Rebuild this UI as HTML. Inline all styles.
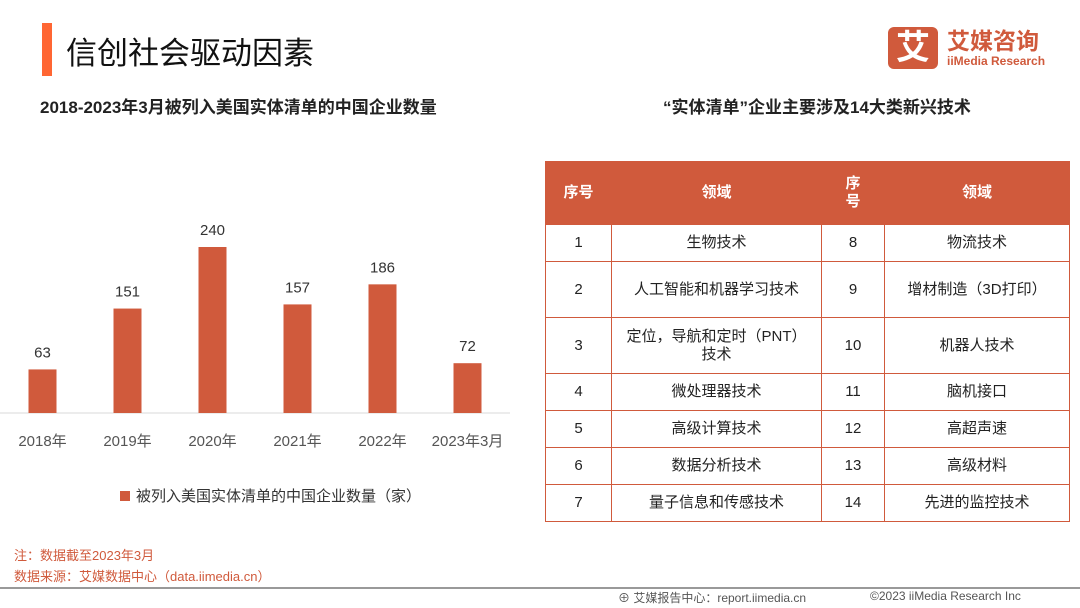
<!DOCTYPE html>
<html><head><meta charset="utf-8"><style>
body{margin:0;width:1080px;height:608px;background:#fff;position:relative;overflow:hidden;font-family:"Liberation Sans","Noto Sans CJK SC",sans-serif;color:#222}
.a{position:absolute}
table{border-collapse:collapse;position:absolute;left:545px;top:161px;width:525px;font-size:15px;table-layout:fixed}
td,th{border:1.5px solid #d05a3c;text-align:center;padding:0;line-height:18px}
th{background:#d05a3c;color:#fff;font-weight:bold;height:62px}
</style></head><body>
<div class="a" style="left:42px;top:23px;width:10px;height:53px;background:#ff6633"></div>
<div class="a" style="left:66px;top:28px;font-size:31px;color:#111">信创社会驱动因素</div>
<div class="a" style="left:888px;top:27px;width:50px;height:42px;background:#d05a3c;border-radius:6px;color:#fff;font-size:34px;font-weight:bold;text-align:center;line-height:42px">艾</div>
<div class="a" style="left:947px;top:28px;color:#d05a3c;font-size:23px;font-weight:bold;line-height:26px">艾媒咨询</div>
<div class="a" style="left:947px;top:54px;color:#d05a3c;font-size:12px;font-weight:bold">iiMedia Research</div>
<div class="a" style="left:40px;top:93px;font-size:17px;font-weight:bold">2018-2023年3月被列入美国实体清单的中国企业数量</div>
<div class="a" style="left:663px;top:93px;font-size:17px;font-weight:bold">“实体清单”企业主要涉及14大类新兴技术</div>
<svg class="a" style="left:0;top:0" width="540" height="520"><g id="g"></g></svg>
<div class="a" style="left:120px;top:485px;font-size:15px;color:#333"><span style="display:inline-block;width:10px;height:10px;background:#d05a3c;margin-right:6px"></span>被列入美国实体清单的中国企业数量（家）</div>
<table>
<tr><th style="width:65px">序号</th><th style="width:209px">领域</th><th style="width:62px">序<br>号</th><th>领域</th></tr>
<tr style="height:37px"><td>1</td><td>生物技术</td><td>8</td><td>物流技术</td></tr>
<tr style="height:56px"><td>2</td><td>人工智能和机器学习技术</td><td>9</td><td>增材制造（3D打印）</td></tr>
<tr style="height:56px"><td>3</td><td>定位，导航和定时（PNT）<br>技术</td><td>10</td><td>机器人技术</td></tr>
<tr style="height:37px"><td>4</td><td>微处理器技术</td><td>11</td><td>脑机接口</td></tr>
<tr style="height:37px"><td>5</td><td>高级计算技术</td><td>12</td><td>高超声速</td></tr>
<tr style="height:37px"><td>6</td><td>数据分析技术</td><td>13</td><td>高级材料</td></tr>
<tr style="height:37px"><td>7</td><td>量子信息和传感技术</td><td>14</td><td>先进的监控技术</td></tr>
</table>
<div class="a" style="left:14px;top:545px;font-size:13px;color:#d05a3c">注：数据截至2023年3月</div>
<div class="a" style="left:14px;top:566px;font-size:13px;color:#d05a3c">数据来源：艾媒数据中心（data.iimedia.cn）</div>
<div class="a" style="left:0;top:587px;width:1080px;height:2px;background:#999"></div>
<div class="a" style="left:618px;top:589px;font-size:12px;color:#555">⊕ 艾媒报告中心：report.iimedia.cn</div>
<div class="a" style="left:870px;top:589px;font-size:12px;color:#555">©2023 iiMedia Research Inc</div>
<script>
const categories=["2018年","2019年","2020年","2021年","2022年","2023年3月"];
const values=[63,151,240,157,186,72];
const g=document.getElementById('g');const ns='http://www.w3.org/2000/svg';
const x0=0,bw=85,base=413,k=166/240;
const xs=i=>x0+bw*i+bw/2, ys=v=>base-v*k;
const ax=document.createElementNS(ns,'line');


ax.setAttribute('x1',0);ax.setAttribute('x2',510);ax.setAttribute('y1',base);ax.setAttribute('y2',base);ax.setAttribute('stroke','#d9d9d9');g.appendChild(ax);
values.forEach((v,i)=>{
const r=document.createElementNS(ns,'rect');


r.setAttribute('x',xs(i)-14);r.setAttribute('y',ys(v));r.setAttribute('width',28);r.setAttribute('height',base-ys(v));r.setAttribute('fill','#d05a3c');g.appendChild(r);
const t=document.createElementNS(ns,'text');


t.setAttribute('x',xs(i));t.setAttribute('y',ys(v)-12);t.setAttribute('text-anchor','middle');t.setAttribute('font-size','15');t.setAttribute('fill','#333');t.textContent=v;g.appendChild(t);
const c=document.createElementNS(ns,'text');


c.setAttribute('x',xs(i));c.setAttribute('y',446);c.setAttribute('text-anchor','middle');c.setAttribute('font-size','15');c.setAttribute('fill','#555');c.textContent=categories[i];g.appendChild(c);
});
</script>
</body></html>
